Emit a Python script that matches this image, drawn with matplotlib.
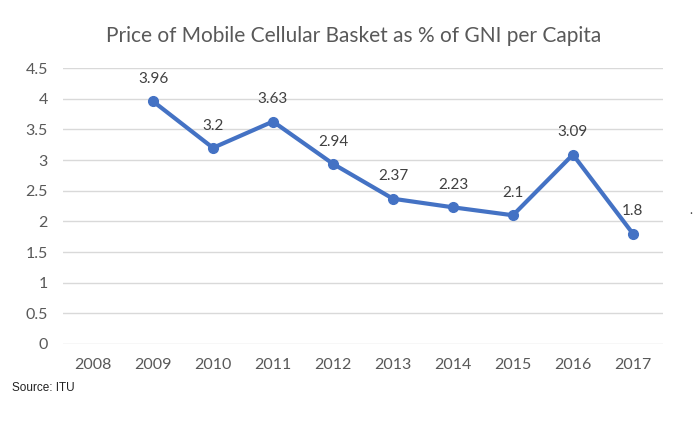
import matplotlib.pyplot as plt
import numpy as np

years = ["2008", "2009", "2010", "2011", "2012", "2013", "2014", "2015", "2016", "2017"]
price = [np.nan, 3.96, 3.2, 3.63, 2.94, 2.37, 2.23, 2.1, 3.09, 1.8]
price_labels = ["", "3.96", "3.2", "3.63", "2.94", "2.37", "2.23", "2.1", "3.09", "1.8"]
y_ticks = [0, 0.5, 1, 1.5, 2, 2.5, 3, 3.5, 4, 4.5]
y_tick_labels = ["0", "0.5", "1", "1.5", "2", "2.5", "3", "3.5", "4", "4.5"]

plt.rcParams["font.family"] = ["Lato", "DejaVu Sans"]

fig = plt.figure(figsize=(7, 4.21), dpi=100)
ax = fig.add_axes([0.09, 0.183, 0.857, 0.655])

x = np.arange(len(years))
ax.plot(x, price, color="#4472C4", linewidth=3, marker="o", markersize=7)

# value labels above each point
for i, val in enumerate(price):
    if np.isnan(val):
        continue
    ax.annotate(
        price_labels[i],
        (x[i], val),
        xytext=(0, 11),
        textcoords="offset points",
        ha="center",
        va="bottom",
        fontsize=11,
        color="#404040"
    )

ax.set_xlim(-0.5, len(years) - 0.5)
ax.set_ylim(0, 4.5)
ax.set_xticks(x)
ax.set_xticklabels(years)
ax.set_yticks(y_ticks)
ax.set_yticklabels(y_tick_labels)

ax.grid(axis="y", color="#D9D9D9", linewidth=1)
ax.set_axisbelow(True)
for side in ["top", "right", "left", "bottom"]:
    ax.spines[side].set_visible(False)
ax.tick_params(length=0, labelsize=11.5, colors="#595959", pad=10)
ax.tick_params(axis="y", pad=11)

fig.text(0.505, 0.915, "Price of Mobile Cellular Basket as % of GNI per Capita",
         ha="center", va="center", fontsize=15, color="#595959")

fig.text(0.017, 0.078, "Source: ITU", ha="left", va="center",
         fontsize=8.5, color="#222222",
         family=["Liberation Sans Narrow", "Liberation Sans"])

fig.text(0.987, 0.5, ".", ha="center", va="center", fontsize=9, color="#444444")

plt.savefig("out.png", dpi=100)
